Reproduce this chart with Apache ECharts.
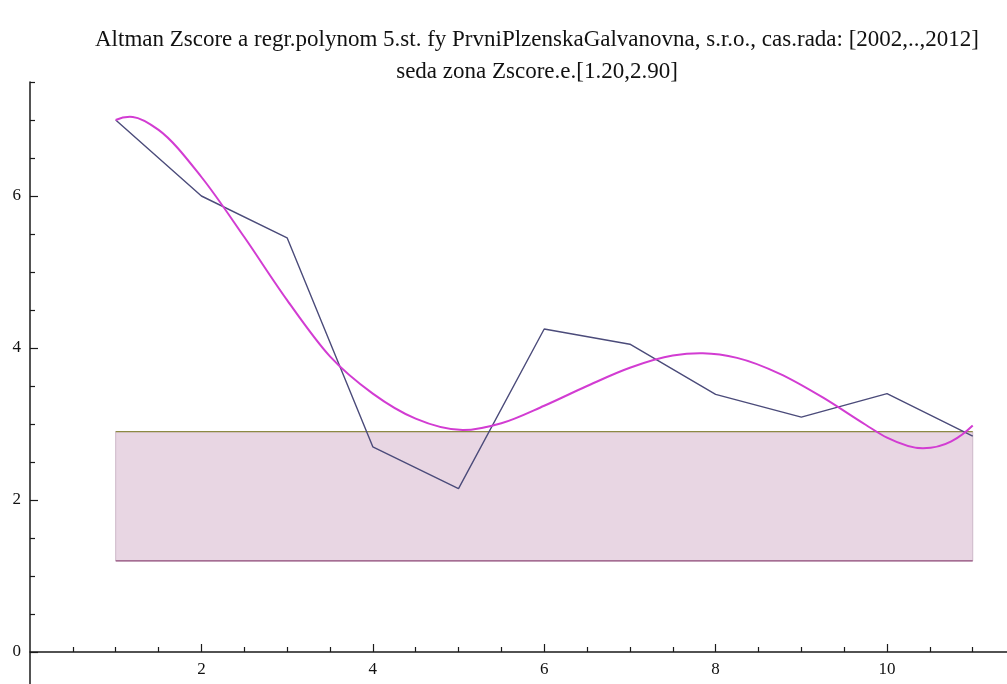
<!DOCTYPE html>
<html>
<head>
<meta charset="utf-8">
<title>Altman Zscore</title>
<script src="https://cdn.jsdelivr.net/npm/echarts@6/dist/echarts.min.js"></script>
<style>
  html, body { margin: 0; padding: 0; background: #ffffff; }
  #chart { width: 1007px; height: 684px; }
</style>
</head>
<body>
<div id="chart"></div>
<script>
// Period index (1 = 2002 ... 11 = 2012)
const periods = [1, 2, 3, 4, 5, 6, 7, 8, 9, 10, 11];
// Altman Z-score per year
const zscore = [7.0, 6.0, 5.45, 2.7, 2.15, 4.25, 4.05, 3.39, 3.09, 3.4, 2.84];

// 5th-degree regression polynomial, sampled along the period axis (turning points included)
const fitX = [1, 1.2, 1.5, 2, 2.5, 3, 3.5, 4, 4.5, 5.05, 5.5, 6, 6.5, 7, 7.5, 7.85, 8.25, 8.75,
              9.25, 9.75, 10, 10.42, 10.75, 11];
const fitY = [7.00, 7.04, 6.87, 6.25, 5.46, 4.63, 3.89, 3.40, 3.07, 2.92, 3.01, 3.24, 3.50, 3.74, 3.90, 3.93,
              3.87, 3.66, 3.35, 2.99, 2.82, 2.68, 2.77, 2.98];

// Grey zone of the Z-score
const greyZone = [1.2, 2.9];
const zoneSpan = [1, 11];

// Tick positions
const xMajorTicks = [2, 4, 6, 8, 10];
const xMinorTicks = [0.5, 1, 1.5, 2.5, 3, 3.5, 4.5, 5, 5.5, 6.5, 7, 7.5, 8.5, 9, 9.5, 10.5, 11];
const yMajorTicks = [0, 2, 4, 6];
const yMinorTicks = [0.5, 1, 1.5, 2.5, 3, 3.5, 4.5, 5, 5.5, 6.5, 7, 7.5];

const titleLine1 = 'Altman Zscore a regr.polynom 5.st. fy PrvniPlzenskaGalvanovna, s.r.o., cas.rada: [2002,..,2012]';
const titleLine2 = 'seda zona Zscore.e.[' + greyZone[0].toFixed(2) + ',' + greyZone[1].toFixed(2) + ']';

const serif = '"Liberation Serif", "Times New Roman", serif';
const axisColor = '#1a1a1a';

// Slopes for a cubic Hermite curve through the fit samples (three-point derivative,
// end slopes taken from the neighbouring secant).
function hermiteSlopes(xs, ys) {
  const n = xs.length;
  const m = new Array(n);
  for (let i = 1; i < n - 1; i++) {
    const h0 = xs[i] - xs[i - 1], h1 = xs[i + 1] - xs[i];
    const s0 = (ys[i] - ys[i - 1]) / h0, s1 = (ys[i + 1] - ys[i]) / h1;
    m[i] = (s0 * h1 + s1 * h0) / (h0 + h1);
  }
  m[0] = 2 * (ys[1] - ys[0]) / (xs[1] - xs[0]) - m[1];
  m[n - 1] = 2 * (ys[n - 1] - ys[n - 2]) / (xs[n - 1] - xs[n - 2]) - m[n - 2];
  return m;
}

// Draws the polynomial as one bezier path; every control point goes through api.coord.
function renderFit(params, api) {
  if (params.dataIndex !== 0) return null;
  const n = fitX.length;
  const xs = [], ys = [];
  for (let i = 0; i < n; i++) { xs.push(api.value(0, i)); ys.push(api.value(1, i)); }
  const m = hermiteSlopes(xs, ys);
  const p0 = api.coord([xs[0], ys[0]]);
  let d = 'M' + p0[0] + ' ' + p0[1];
  for (let i = 0; i < n - 1; i++) {
    const h = xs[i + 1] - xs[i];
    const c1 = api.coord([xs[i] + h / 3, ys[i] + m[i] * h / 3]);
    const c2 = api.coord([xs[i + 1] - h / 3, ys[i + 1] - m[i + 1] * h / 3]);
    const p = api.coord([xs[i + 1], ys[i + 1]]);
    d += ' C' + c1[0] + ' ' + c1[1] + ' ' + c2[0] + ' ' + c2[1] + ' ' + p[0] + ' ' + p[1];
  }
  return {
    type: 'path',
    shape: { pathData: d },
    style: { fill: null, stroke: '#d23cd2', lineWidth: 2 }
  };
}

const chart = echarts.init(document.getElementById('chart'), null, { renderer: 'canvas' });

const xBase = {
  type: 'value', min: 0, max: 11.4, position: 'bottom',
  splitLine: { show: false },
  axisLine: { onZero: true, lineStyle: { color: axisColor, width: 1.5 } }
};
const yBase = {
  type: 'value', min: -0.5, max: 7.5, position: 'left',
  splitLine: { show: false },
  axisLine: { onZero: false, lineStyle: { color: axisColor, width: 1.5 } }
};

chart.setOption({
  animation: false,
  backgroundColor: '#ffffff',
  title: [
    {
      text: titleLine1, left: 537, top: 28, textAlign: 'center', padding: 0,
      textStyle: { fontFamily: serif, fontWeight: 'normal', fontSize: 23, color: '#111' }
    },
    {
      text: titleLine2, left: 537, top: 60, textAlign: 'center', padding: 0,
      textStyle: { fontFamily: serif, fontWeight: 'normal', fontSize: 23, color: '#111' }
    }
  ],
  grid: { left: 30, right: 0, top: 82, bottom: -6, containLabel: false, outerBoundsMode: 'none' },
  xAxis: [
    Object.assign({}, xBase, {
      axisTick: { inside: true, length: 8, customValues: xMajorTicks, lineStyle: { color: axisColor, width: 1.2 } },
      // labels sit at the grid's lower edge; pull them up under the zero line
      axisLabel: {
        customValues: xMajorTicks, margin: -29,
        fontFamily: serif, fontSize: 17, color: '#111'
      }
    }),
    Object.assign({}, xBase, {
      axisLine: { show: false, onZero: true },
      axisTick: { inside: true, length: 5, customValues: xMinorTicks, lineStyle: { color: axisColor, width: 1.2 } },
      axisLabel: { show: false }
    })
  ],
  yAxis: [
    Object.assign({}, yBase, {
      axisTick: { inside: true, length: 8, customValues: yMajorTicks, lineStyle: { color: axisColor, width: 1.2 } },
      axisLabel: {
        customValues: yMajorTicks, margin: 9,
        fontFamily: serif, fontSize: 17, color: '#111'
      }
    }),
    Object.assign({}, yBase, {
      axisLine: { show: false, onZero: false },
      axisTick: { inside: true, length: 5, customValues: yMinorTicks, lineStyle: { color: axisColor, width: 1.2 } },
      axisLabel: { show: false }
    })
  ],
  series: [
    {
      name: 'grey zone top',
      type: 'line',
      data: [[zoneSpan[0], greyZone[1]], [zoneSpan[1], greyZone[1]]],
      symbol: 'none',
      lineStyle: { color: '#8c8a44', width: 1.3 },
      z: 2,
      markArea: {
        silent: true,
        itemStyle: { color: '#e8d6e3', borderColor: '#cdb8c8', borderWidth: 1 },
        data: [[{ coord: [zoneSpan[0], greyZone[0]] }, { coord: [zoneSpan[1], greyZone[1]] }]]
      }
    },
    {
      name: 'grey zone bottom',
      type: 'line',
      data: [[zoneSpan[0], greyZone[0]], [zoneSpan[1], greyZone[0]]],
      symbol: 'none',
      lineStyle: { color: '#94507e', width: 1.3 },
      z: 2
    },
    {
      name: 'Zscore',
      type: 'line',
      data: periods.map((x, i) => [x, zscore[i]]),
      symbol: 'none',
      lineStyle: { color: '#4b4b7a', width: 1.4 },
      z: 3
    },
    {
      name: 'polynom 5',
      type: 'custom',
      data: fitX.map((x, i) => [x, fitY[i]]),
      encode: { x: 0, y: 1 },
      renderItem: renderFit,
      silent: true,
      z: 4
    }
  ]
});
</script>
</body>
</html>
